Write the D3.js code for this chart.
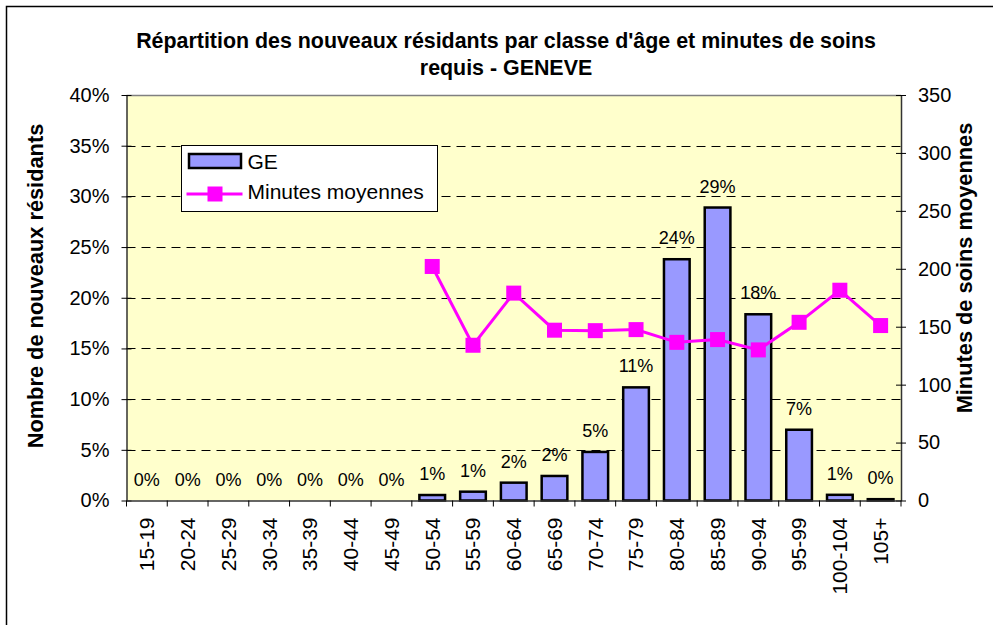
<!DOCTYPE html>
<meta charset="utf-8">
<style>
  body { margin: 0; background: #fff; }
  text { font-family: "Liberation Sans", Arial, sans-serif; }
</style>
<body>
  <script src="https://cdn.jsdelivr.net/npm/d3@7"></script>
  <script>
    // data
    var categories = ["15-19", "20-24", "25-29", "30-34", "35-39", "40-44", "45-49", "50-54", "55-59",
      "60-64", "65-69", "70-74", "75-79", "80-84", "85-89", "90-94", "95-99", "100-104", "105+"];
    var share = [0, 0, 0, 0, 0, 0, 0, 0.0054, 0.0087, 0.0176, 0.0242, 0.0479, 0.1116, 0.238, 0.289,
      0.1837, 0.0698, 0.0056, 0.0013];
    var minutes = [null, null, null, null, null, null, null, 202, 134, 179, 147, 146.6, 147.5, 136.5,
      138.9, 130, 153.8, 181.5, 151];
    var leftTicks = [0, 0.05, 0.1, 0.15, 0.2, 0.25, 0.3, 0.35, 0.4];
    var rightTicks = [0, 50, 100, 150, 200, 250, 300, 350];

    var W = 993, H = 625;
    var margin = { top: 95, right: 92, bottom: 124.5, left: 126.5 },
      width = W - margin.left - margin.right,
      height = H - margin.top - margin.bottom;

    var svg = d3.select("body").append("svg")
      .attr("width", W)
      .attr("height", H);

    // outer chart frame
    svg.append("rect")
      .attr("x", 6.5).attr("y", 6.5)
      .attr("width", W).attr("height", H)
      .style("fill", "#fff").style("stroke", "#000").style("stroke-width", 1.5);

    // title
    var title = svg.append("text")
      .attr("text-anchor", "middle")
      .style("font-size", "21.4px").style("font-weight", "bold");
    title.append("tspan").attr("x", 506).attr("y", 48)
      .text("Répartition des nouveaux résidants par classe d'âge et minutes de soins");
    title.append("tspan").attr("x", 506).attr("y", 75).text("requis - GENEVE");

    var g = svg.append("g")
      .attr("transform", "translate(" + margin.left + "," + margin.top + ")");

    var x = d3.scaleBand().domain(categories).range([0, width]).paddingInner(0.37).paddingOuter(0.185);
    var xb = d3.scaleBand().domain(categories).range([0, width]);
    var y = d3.scaleLinear().domain([0, 0.4]).range([height, 0]);
    var y2 = d3.scaleLinear().domain([0, 350]).range([height, 0]);

    // plot background
    g.append("rect")
      .attr("width", width).attr("height", height)
      .style("fill", "#ffffcc");
    g.append("line")
      .attr("x1", 0).attr("x2", width).attr("y1", 0.5).attr("y2", 0.5)
      .style("stroke", "#808080").style("stroke-width", 1.5);

    // gridlines
    g.selectAll(".grid")
      .data(leftTicks.filter(function(d) { return d > 0 && d < 0.4; }))
      .enter().append("line")
      .attr("x1", 0).attr("x2", width)
      .attr("y1", function(d) { return Math.round(y(d)) + 0.5; })
      .attr("y2", function(d) { return Math.round(y(d)) + 0.5; })
      .style("stroke", "#000").style("stroke-dasharray", "9,6");

    // bars
    g.selectAll(".bar")
      .data(share)
      .enter().append("rect")
      .attr("x", function(d, i) { return x(categories[i]); })
      .attr("y", function(d) { return y(d); })
      .attr("width", x.bandwidth())
      .attr("height", function(d) { return height - y(d); })
      .style("fill", "#9999ff")
      .style("stroke", "#000").style("stroke-width", 2.5);

    // bar labels
    g.selectAll(".lbl")
      .data(share)
      .enter().append("text")
      .attr("x", function(d, i) { return xb(categories[i]) + xb.bandwidth() / 2; })
      .attr("y", function(d) { return y(d) - 15; })
      .attr("text-anchor", "middle")
      .style("font-size", "18px")
      .text(function(d) { return Math.round(d * 100) + "%"; });

    // minutes line
    var pts = minutes.map(function(d, i) { return [categories[i], d]; })
      .filter(function(d) { return d[1] != null; });
    var line = d3.line()
      .x(function(d) { return xb(d[0]) + xb.bandwidth() / 2; })
      .y(function(d) { return y2(d[1]); });
    g.append("path")
      .datum(pts)
      .attr("d", line)
      .style("fill", "none").style("stroke", "#ff00ff").style("stroke-width", 3);
    g.selectAll(".mk")
      .data(pts)
      .enter().append("rect")
      .attr("x", function(d) { return xb(d[0]) + xb.bandwidth() / 2 - 7.5; })
      .attr("y", function(d) { return y2(d[1]) - 7.5; })
      .attr("width", 15).attr("height", 15)
      .style("fill", "#ff00ff");

    // axes
    var yAxis = g.append("g")
      .call(d3.axisLeft(y).tickValues(leftTicks).tickSizeInner(5).tickSizeOuter(0).tickPadding(12)
        .tickFormat(function(d) { return Math.round(d * 100) + "%"; }));
    yAxis.selectAll(".tick line").attr("x2", -5).attr("x1", 5);
    var y2Axis = g.append("g")
      .attr("transform", "translate(" + width + ",0)")
      .call(d3.axisRight(y2).tickValues(rightTicks).tickSizeInner(5).tickSizeOuter(0).tickPadding(12));
    y2Axis.selectAll(".tick line").attr("x1", -5).attr("x2", 5);
    var xAxis = g.append("g")
      .attr("transform", "translate(0," + height + ")")
      .call(d3.axisBottom(xb).tickSize(0).tickSizeOuter(0));
    xAxis.selectAll(".tick text")
      .attr("transform", "rotate(-90)")
      .attr("x", -17).attr("y", 0).attr("dy", "0.35em")
      .style("text-anchor", "end");
    xAxis.selectAll(".sep")
      .data(d3.range(categories.length + 1))
      .enter().append("line")
      .attr("x1", function(i) { return i * xb.step(); })
      .attr("x2", function(i) { return i * xb.step(); })
      .attr("y1", 0).attr("y2", 6)
      .style("stroke", "#000");

    [yAxis, y2Axis, xAxis].forEach(function(a) {
      a.selectAll("text").style("font-size", "20px").style("font-family", "Liberation Sans, Arial, sans-serif").style("fill", "#000");
      a.select(".domain").style("stroke", "#333").style("stroke-width", 1.5);
      a.selectAll(".tick line").style("stroke", "#000");
    });
    xAxis.selectAll(".tick text").style("font-size", "21px");

    // axis titles
    svg.append("text")
      .attr("transform", "translate(43,286) rotate(-90)")
      .attr("text-anchor", "middle")
      .style("font-size", "21.8px").style("font-weight", "bold")
      .text("Nombre de nouveaux résidants");
    svg.append("text")
      .attr("transform", "translate(972,268) rotate(-90)")
      .attr("text-anchor", "middle")
      .style("font-size", "21.8px").style("font-weight", "bold")
      .text("Minutes de soins moyennes");

    // legend
    var lg = svg.append("g").attr("transform", "translate(181.5,145.5)");
    lg.append("rect").attr("width", 256).attr("height", 66)
      .style("fill", "#fff").style("stroke", "#000");
    lg.append("rect").attr("x", 7.5).attr("y", 8.5).attr("width", 52).attr("height", 14)
      .style("fill", "#9999ff").style("stroke", "#000").style("stroke-width", 2.5);
    lg.append("text").attr("x", 66).attr("y", 23.5).style("font-size", "21px").text("GE");
    lg.append("line").attr("x1", 5).attr("x2", 61).attr("y1", 48.5).attr("y2", 48.5)
      .style("stroke", "#ff00ff").style("stroke-width", 3);
    lg.append("rect").attr("x", 26).attr("y", 41).attr("width", 15).attr("height", 15)
      .style("fill", "#ff00ff");
    lg.append("text").attr("x", 66).attr("y", 53).style("font-size", "21px").text("Minutes moyennes");
  </script>
</body>
